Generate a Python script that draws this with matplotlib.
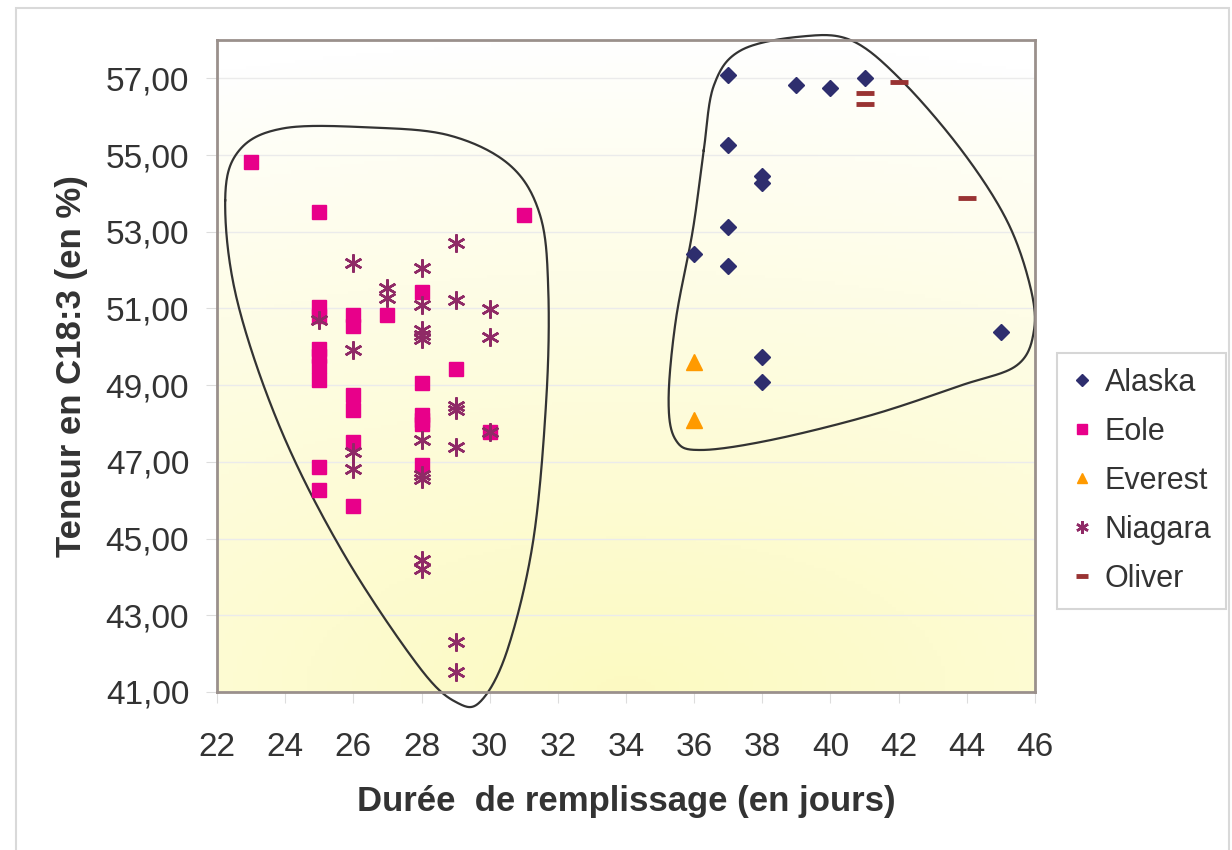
import numpy as np
import matplotlib
matplotlib.use("Agg")
import matplotlib.pyplot as plt
from matplotlib.patches import Rectangle
from matplotlib.ticker import FuncFormatter

plt.rcParams['font.family'] = ['Liberation Sans', 'DejaVu Sans']

# données
alaska_x = [37, 39, 40, 41, 37, 38, 38, 37, 36, 37, 45, 38, 38]
alaska_y = [57.10, 56.82, 56.74, 57.00, 55.25, 54.45, 54.26, 53.12, 52.41, 52.10, 50.38, 49.73, 49.08]

eole_x = [23, 25, 31, 25, 25, 25, 25, 25, 25, 25, 25,
          26, 26, 26, 26, 26, 26, 27,
          28, 28, 28, 28, 28, 28, 29, 30]
eole_y = [54.81, 53.51, 53.43, 51.03, 50.80, 49.95, 49.75, 49.50, 49.13, 46.86, 46.26,
          50.82, 50.55, 48.74, 48.34, 47.51, 45.84, 50.82,
          51.42, 49.05, 48.22, 48.00, 46.92, 48.10, 49.42, 47.78]

everest_x = [36, 36]
everest_y = [49.60, 48.09]

niagara_x = [25, 26, 26, 26, 26, 27, 27,
             28, 28, 28, 28, 28, 28, 28, 28, 28, 28,
             29, 29, 29, 29, 29, 29, 29, 30, 30, 30]
niagara_y = [50.70, 52.18, 49.91, 47.25, 46.82, 51.53, 51.27,
             52.05, 51.08, 50.45, 50.32, 50.20, 47.56, 46.65, 46.55, 44.44, 44.20,
             52.70, 51.21, 48.45, 48.35, 47.40, 42.30, 41.53, 50.98, 50.25, 47.78]

oliver_x = [42, 41, 41, 44]
oliver_y = [56.90, 56.61, 56.32, 53.87]

# contours tracés à la main (regroupements)
left_blob = [(22.24, 53.82), (22.65, 55.12), (23.97, 55.70), (26.48, 55.72), (28.83, 55.51),
             (30.60, 54.73), (31.48, 53.43), (31.72, 51.48), (31.66, 48.61), (31.28, 44.96),
             (30.54, 42.15), (29.77, 40.79), (29.07, 40.71), (27.95, 41.63), (25.74, 44.57),
             (23.88, 47.83), (22.59, 51.21)]
right_blob = [(36.28, 55.12), (36.58, 56.82), (37.37, 57.73), (39.14, 58.09), (40.61, 57.99),
              (42.08, 56.95), (43.85, 55.12), (45.17, 53.30), (45.85, 51.61), (45.97, 50.43),
              (45.47, 49.52), (43.85, 49.00), (41.20, 48.22), (38.25, 47.57), (36.19, 47.31),
              (35.46, 47.57), (35.25, 48.61), (35.46, 50.69), (35.96, 53.04)]


def closed_spline(pts, n=30):
    p = np.array(pts)
    k = len(p)
    out = []
    for i in range(k):
        p0, p1, p2, p3 = p[(i - 1) % k], p[i], p[(i + 1) % k], p[(i + 2) % k]
        t = np.linspace(0, 1, n, endpoint=False)[:, None]
        seg = 0.5 * ((2 * p1) + (-p0 + p2) * t + (2 * p0 - 5 * p1 + 4 * p2 - p3) * t ** 2
                     + (-p0 + 3 * p1 - 3 * p2 + p3) * t ** 3)
        out.append(seg)
    out = np.vstack(out)
    return np.vstack([out, out[:1]])


fig = plt.figure(figsize=(12.32, 8.5), dpi=100)
fig.patches.append(Rectangle((16 / 1232, -0.01), 1213 / 1232, (850 - 8) / 850 + 0.01,
                             transform=fig.transFigure, fill=False, edgecolor='#d9d9d9', lw=1.5))

ax = fig.add_axes([217 / 1232, 158 / 850, 818 / 1232, 652 / 850])
ax.set_xlim(22, 46)
ax.set_ylim(41, 58)

# fond en dégradé (blanc en haut, jaune pâle en bas)
yy, xx = np.mgrid[0:1:200j, 0:1:200j]
d = np.sqrt(((xx - 0.5) * 0.6) ** 2 + (yy * 1.0) ** 2)
w = np.clip(1 - d, 0, 1) ** 0.9
r = 1 - w * 0.01
g = 1 - w * 0.02
b = 1 - w * 0.24
img = np.dstack([r, g, b])
ax.imshow(img, extent=[22, 46, 41, 58], origin='lower', aspect='auto', zorder=0)

ax.grid(axis='y', color='#ebebeb', lw=1, zorder=1)
ax.set_yticks(np.arange(41, 58, 2))
ax.set_xticks(np.arange(22, 47, 2))
ax.yaxis.set_major_formatter(FuncFormatter(lambda v, p: f"{v:.2f}".replace('.', ',')))
ax.tick_params(direction='out', length=8, color='#dddddd', labelsize=24, labelcolor='#333333', pad=12)
ax.tick_params(axis='x', pad=21)
for s in ax.spines.values():
    s.set_color('#9a908c')
    s.set_linewidth(2)

ax.plot(alaska_x, alaska_y, 'D', color='#2e2e6e', ms=8.5, ls='none', label='Alaska', zorder=3)
ax.plot(eole_x, eole_y, 's', color='#e8008a', ms=9.5, ls='none', label='Eole', zorder=3)
ax.plot(everest_x, everest_y, '^', color='#ff9a00', ms=11, ls='none', label='Everest', zorder=3)
ax.plot(niagara_x, niagara_y, marker=(6, 2, 0), color='#8f2a66', ms=13, mew=1.8, ls='none',
        label='Niagara', zorder=4)
ax.plot(oliver_x, oliver_y, '_', color='#993333', ms=13, mew=3.5, ls='none', label='Oliver', zorder=3)

for blob in (left_blob, right_blob):
    c = closed_spline(blob)
    ax.plot(c[:, 0], c[:, 1], color='#333333', lw=1.6, zorder=2, clip_on=False)

ax.set_xlabel('Durée  de remplissage (en jours)', fontsize=25, fontweight='bold', color='#333333', labelpad=16)
ax.set_ylabel('Teneur en C18:3 (en %)', fontsize=25, fontweight='bold', color='#333333', labelpad=13)

leg = ax.legend(loc='center left', bbox_to_anchor=(1.027, 0.324), fontsize=22, frameon=True,
                fancybox=False, edgecolor='#cccccc', handlelength=0.6, handletextpad=0.45,
                labelspacing=0.62, borderpad=0.5, borderaxespad=0, markerscale=0.7)
leg.get_frame().set_linewidth(1.5)
for t in leg.get_texts():
    t.set_color('#333333')

fig.savefig('out.png', dpi=100)
